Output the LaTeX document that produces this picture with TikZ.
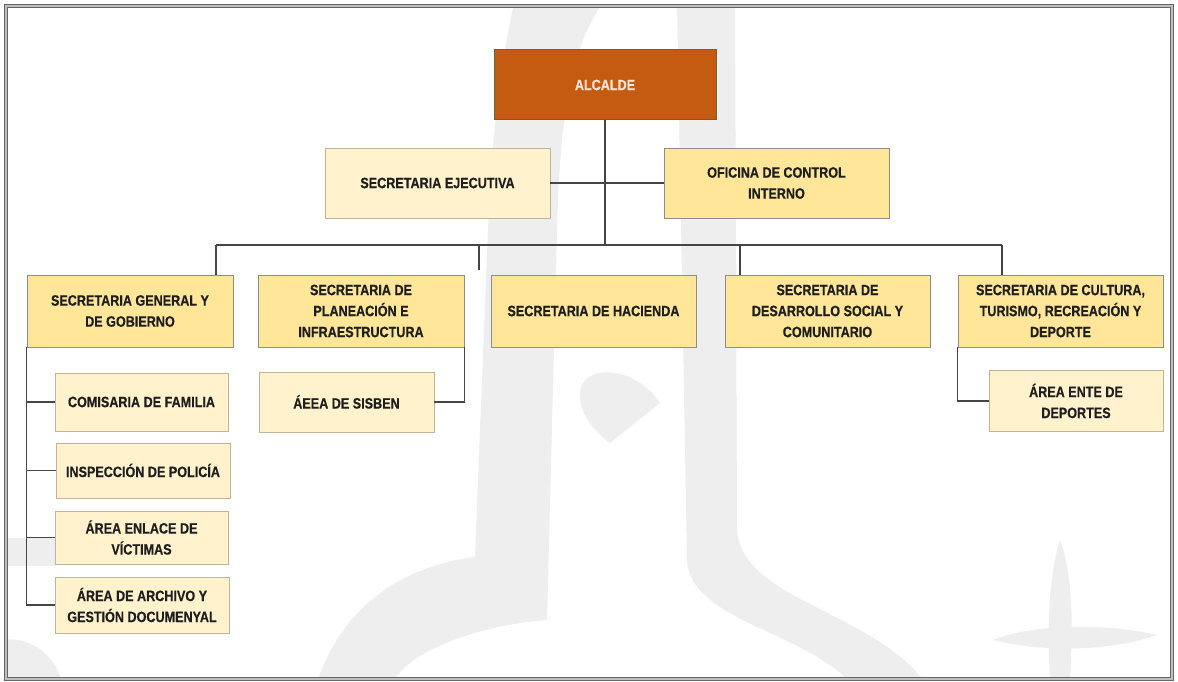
\documentclass[tikz,border=0pt]{standalone}
\usepackage{fontspec}
\newfontfamily\orgfont[FakeStretch=0.84, BoldFeatures={FakeBold=0.4}]{Liberation Sans}
\definecolor{alcfill}{HTML}{C55A11}
\definecolor{alcdraw}{HTML}{5E6B3A}
\definecolor{alctext}{HTML}{FBE5D6}
\definecolor{secfill}{HTML}{FFE699}
\definecolor{arefill}{HTML}{FFF2CC}
\definecolor{wm}{HTML}{EEEEEE}
\definecolor{lnk}{HTML}{454545}
\definecolor{txt}{HTML}{1E1E1E}
\begin{document}
\begin{tikzpicture}[x=1pt,y=-1pt,
  box/.style={rectangle, inner sep=0pt, align=center,
    font=\orgfont\bfseries\fontsize{15}{21}\selectfont, text=txt},
  secbox/.style={box, fill=secfill, draw=black!45, line width=0.8pt},
  areabox/.style={box, fill=arefill, draw=arefill!75!black, line width=0.6pt},
  alcbox/.style={box, fill=alcfill, draw=alcdraw, line width=1pt, text=alctext},
  link/.style={draw=lnk, line width=1.2pt},
  wmk/.style={fill=wm, draw=none}]
\useasboundingbox (0,0) rectangle (1178,682);
\fill[white] (0,0) rectangle (1178,682);
% watermark
\begin{scope}
\clip (6,6) rectangle (1172,679);
\fill[wmk] (515,0) -- (605,0) .. controls (575,40) and (560,100) .. (557,230)
  -- (547,620) .. controls (480,625) and (410,650) .. (393,682) -- (317,682)
  .. controls (345,600) and (410,565) .. (475,557) -- (488,230)
  .. controls (492,120) and (505,40) .. (515,0) -- cycle;
\fill[wmk] (677,0) -- (735,0) -- (737,530) .. controls (742,600) and (870,610) .. (925,682)
  -- (850,682) .. controls (800,630) and (690,620) .. (687,560) -- cycle;
\fill[wmk] (660,403) .. controls (640,372) and (600,365) .. (585,380)
  .. controls (572,398) and (585,425) .. (610,443) -- cycle;
\fill[wmk] (1060,540) .. controls (1075,580) and (1072,640) .. (1070,682) -- (1050,682)
  .. controls (1048,640) and (1047,580) .. (1060,540) -- cycle;
\fill[wmk] (993,640) .. controls (1030,625) and (1100,622) .. (1157,635)
  .. controls (1110,652) and (1040,652) .. (993,640) -- cycle;
\fill[wmk] (0,640) .. controls (30,635) and (55,655) .. (62,682) -- (0,682) -- cycle;
\fill[wmk] (0,538) rectangle (56,566);
\end{scope}
% frame
\draw[draw=black!60, double=black!25, double distance=2pt, line width=1pt] (6,6.5) rectangle (1172,678.5);
% nodes
\node[alcbox, minimum width=222pt, minimum height=70pt] (alc) at (605,85) {ALCALDE};
\node[areabox, minimum width=225pt, minimum height=70pt] (sej) at (437.5,183) {SECRETARIA EJECUTIVA};
\node[secbox, minimum width=225pt, minimum height=70pt] (oci) at (776.5,183) {OFICINA DE CONTROL\\INTERNO};
\node[secbox, minimum width=206pt, minimum height=72pt] (gen) at (130,311) {SECRETARIA GENERAL Y\\DE GOBIERNO};
\node[secbox, minimum width=206pt, minimum height=72pt] (pla) at (361,311) {SECRETARIA DE\\PLANEACIÓN E\\INFRAESTRUCTURA};
\node[secbox, minimum width=205pt, minimum height=72pt] (hac) at (593.5,311) {SECRETARIA DE HACIENDA};
\node[secbox, minimum width=205pt, minimum height=72pt] (des) at (827.5,311) {SECRETARIA DE\\DESARROLLO SOCIAL Y\\COMUNITARIO};
\node[secbox, minimum width=205pt, minimum height=72pt] (cul) at (1060.5,311) {SECRETARIA DE CULTURA,\\TURISMO, RECREACIÓN Y\\DEPORTE};
\node[areabox, minimum width=173pt, minimum height=58pt] (com) at (141.5,402) {COMISARIA DE FAMILIA};
\node[areabox, minimum width=174pt, minimum height=55pt] (ins) at (143,470.5) {INSPECCIÓN DE POLICÍA};
\node[areabox, minimum width=173pt, minimum height=53pt] (vic) at (141.5,537.5) {ÁREA ENLACE DE\\VÍCTIMAS};
\node[areabox, minimum width=174pt, minimum height=56pt] (arc) at (142,605) {ÁREA DE ARCHIVO Y\\GESTIÓN DOCUMENYAL};
\node[areabox, minimum width=175pt, minimum height=60pt] (sis) at (346.5,402) {ÁEEA DE SISBEN};
\node[areabox, minimum width=174pt, minimum height=61pt] (dep) at (1076,401) {ÁREA ENTE DE\\DEPORTES};
% bus coordinates
\coordinate (bus) at (605,245);
\coordinate (busL) at (216,245);
\coordinate (busR) at (1002,245);
\coordinate (t2) at (479,245);
\coordinate (t2e) at (479,270);
\coordinate (t3) at (740,245);
% connectors
\draw[link] (alc.south) -- (bus);
\draw[link] (sej.east) -- (oci.west);
\draw[link] (busL) -- (busR);
\draw[link] (busL) -- (busL |- gen.north);
\draw[link] (t2) -- (t2e);
\draw[link] (t3) -- (t3 |- des.north);
\draw[link] (busR) -- (busR |- cul.north);
\draw[link] (gen.south west) |- (com.west);
\draw[link] (gen.south west) |- (ins.west);
\draw[link] (gen.south west) |- (vic.west);
\draw[link] (gen.south west) |- (arc.west);
\draw[link] (pla.south east) |- (sis.east);
\draw[link] (cul.south west) |- (dep.west);
\end{tikzpicture}
\end{document}
